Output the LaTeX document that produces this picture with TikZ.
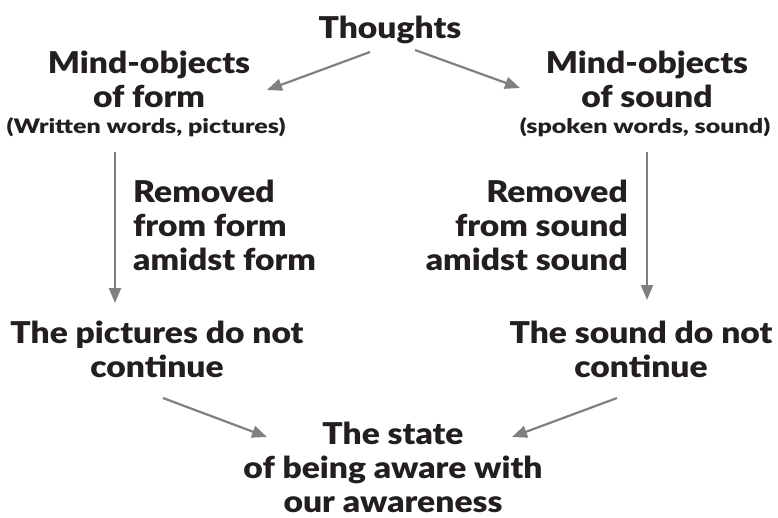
\documentclass[tikz,border=0pt]{standalone}
\usepackage{fontspec}
\setmainfont{Lato Black}[FakeStretch=1.12]
\newfontfamily\subfont{Lato Black}[FakeStretch=1.25]
\usetikzlibrary{arrows.meta}
\definecolor{inkdark}{HTML}{231F20}
\definecolor{arrowgray}{HTML}{808080}

\begin{document}
\begin{tikzpicture}[x=1pt, y=-1pt,
    big/.style={anchor=base, align=center, inner sep=0pt, text=inkdark,
      font=\fontsize{30}{34}\selectfont},
    small/.style={anchor=base, align=center, inner sep=0pt, text=inkdark,
      font=\subfont\fontsize{20}{23}\selectfont},
    link/.style={draw=arrowgray, line width=2.2pt,
      -{Triangle[length=15pt,width=12pt]}}]
  \useasboundingbox (0,0) rectangle (778,517);
  % texts (base = baseline of the last line)
  \node[big]   (thoughts) at (390,38)  {Thoughts};
  \node[big]   (formobj)  at (149,107) {Mind-objects\\of form};
  \node[small] (formsub)  at (146,133) {(Written words, pictures)};
  \node[big]   (soundobj) at (647,107) {Mind-objects\\of sound};
  \node[small] (soundsub) at (645,133) {(spoken words, sound)};
  \node[big, anchor=base west, align=left]  (remform)  at (133,270) {Removed\\from form\\amidst form};
  \node[big, anchor=base east, align=right] (remsound) at (628,270) {Removed\\from sound\\amidst sound};
  \node[big]   (pictnot)  at (157,377) {The pictures do not\\continue};
  \node[big]   (soundnot) at (641,377) {The sound do not\\continue};
  \node[big]   (state)    at (393,512) {The state\\of being aware with\\our awareness};
  % arrows
  \draw[link] ([shift={(-20,14)}]thoughts.base) -- ([shift={(118,-17)}]formobj.base);
  \draw[link] ([shift={(25,12)}]thoughts.base)  -- ([shift={(-127,-19)}]soundobj.base);
  \draw[link] ([shift={(-31,19)}]formsub.base)  -- ([shift={(-42,-74)}]pictnot.base);
  \draw[link] ([shift={(2,19)}]soundsub.base)   -- ([shift={(6,-77)}]soundnot.base);
  \draw[link] ([shift={(6,21)}]pictnot.base)    -- ([shift={(-126,-75)}]state.base);
  \draw[link] ([shift={(-24,21)}]soundnot.base) -- ([shift={(119,-75)}]state.base);
\end{tikzpicture}
\end{document}
